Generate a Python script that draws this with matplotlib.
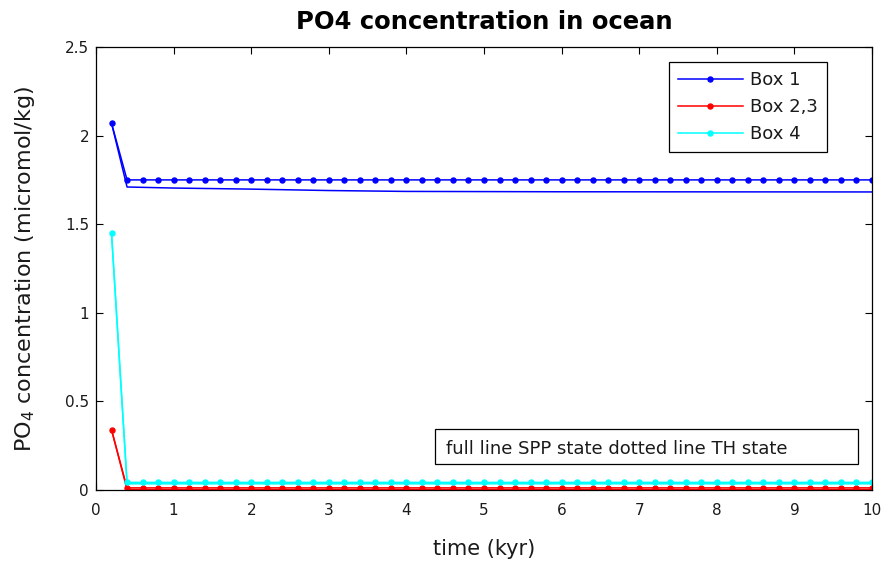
import numpy as np
import matplotlib
matplotlib.use("Agg")
import matplotlib.pyplot as plt
from matplotlib.patches import Rectangle

plt.rcParams['font.family'] = ['DejaVu Sans']

# time axis of the model run (kyr), one output every 0.2 kyr
time = np.round(np.arange(0.2, 10.01, 0.2), 1)

# TH state (dotted line with markers), micromol/kg
th_box1 = [2.07] + [1.75] * 49
th_box23 = [0.34] + [0.012] * 49
th_box4 = [1.45] + [0.043] * 49

# SPP state (full line), sampled at fewer times
spp_time = [0.2, 0.4, 1.0, 2.0, 3.0, 4.0, 6.0, 10.0]
spp_box1 = [2.07, 1.710, 1.704, 1.698, 1.690, 1.685, 1.683, 1.682]
spp_box23 = [0.34, 0.003, 0.003, 0.003, 0.003, 0.003, 0.003, 0.003]
spp_box4 = [1.45, 0.035, 0.035, 0.035, 0.035, 0.035, 0.035, 0.035]

xticks = [0, 1, 2, 3, 4, 5, 6, 7, 8, 9, 10]
yticks = [0, 0.5, 1, 1.5, 2, 2.5]
ytick_labels = ['0', '0.5', '1', '1.5', '2', '2.5']

txt = '#1a1a1a'

fig = plt.figure(figsize=(8.84, 5.69), dpi=100)
ax = fig.add_axes([96 / 884, 1 - 490 / 569, (872 - 96) / 884, (490 - 47) / 569])

ax.plot(spp_time, spp_box1, color='#0000ff', lw=1.1)
ax.plot(spp_time, spp_box23, color='#ff0000', lw=1.1)
ax.plot(spp_time, spp_box4, color='#00ffff', lw=1.1)

ax.plot(time, th_box1, color='#0000ff', lw=1.1, marker='o', ms=3.6, label='Box 1')
ax.plot(time, th_box23, color='#ff0000', lw=1.1, marker='o', ms=3.6, label='Box 2,3')
ax.plot(time, th_box4, color='#00ffff', lw=1.1, marker='o', ms=3.6, label='Box 4')

ax.set_xlim(0, 10)
ax.set_ylim(0, 2.5)
ax.set_xticks(xticks)
ax.set_yticks(yticks)
ax.set_yticklabels(ytick_labels)
ax.tick_params(direction='in', length=5, width=0.8, top=True, right=True,
               labelsize=11, colors='black', labelcolor=txt)
ax.tick_params(axis='x', pad=9.5)
ax.tick_params(axis='y', pad=5)
for s in ax.spines.values():
    s.set_linewidth(0.9)
    s.set_color('black')

ax.set_title('PO4 concentration in ocean', fontsize=17.5, fontweight='bold',
             pad=13, color='black')
ax.set_xlabel('time (kyr)', fontsize=15, labelpad=15, color=txt)
ax.set_ylabel('PO$_4$ concentration (micromol/kg)', fontsize=16, labelpad=20,
              color=txt)

leg = ax.legend(loc='upper right', bbox_to_anchor=(827 / 884, 1 - 62 / 569),
                bbox_transform=fig.transFigure, borderaxespad=0, fontsize=13,
                handlelength=3.6, handletextpad=0.4, labelspacing=0.5,
                borderpad=0.5, fancybox=False, framealpha=1, edgecolor='black')
leg.get_frame().set_linewidth(0.9)
for t in leg.get_texts():
    t.set_color(txt)

# note box explaining the line styles
fig.patches.append(Rectangle((435 / 884, 1 - 464 / 569), (858 - 435) / 884, 35 / 569,
                             transform=fig.transFigure, fill=False,
                             edgecolor='black', lw=0.9))
fig.text(446 / 884, 1 - 449 / 569, 'full line SPP state dotted line TH state',
         fontsize=13, va='center', ha='left', color=txt)

fig.savefig('out.png', dpi=100)
